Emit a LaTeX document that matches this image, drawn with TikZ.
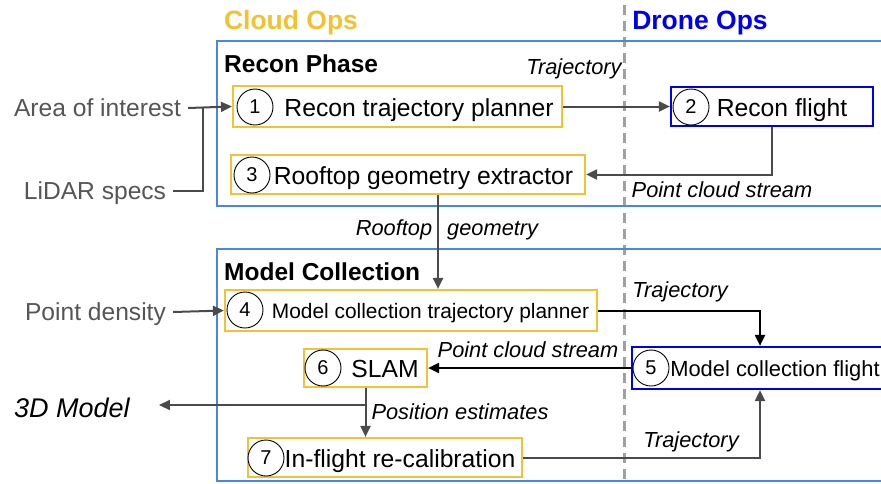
\documentclass[tikz,border=0pt]{standalone}
\usepackage{fontspec}
\setmainfont{Liberation Sans}
\usetikzlibrary{arrows.meta}
\definecolor{cloudyel}{HTML}{F1C232}
\definecolor{phaseblue}{HTML}{4A86E8}
\definecolor{dronblue}{HTML}{0000F0}
\definecolor{linegray}{HTML}{4A4A4A}
\definecolor{txtgray}{HTML}{555555}
\definecolor{dashgray}{HTML}{A0A0A0}
\tikzset{
  phase/.style={draw=phaseblue, line width=2pt},
  cloudbox/.style={draw=cloudyel, line width=2.2pt, fill=white, inner sep=0pt},
  dronebox/.style={draw=dronblue, line width=2.2pt, fill=white, inner sep=0pt},
  numc/.style={circle, draw=black, line width=0.9pt, fill=white, minimum size=36pt, inner sep=0pt, font=\fontsize{20}{22}\selectfont},
  % caps-height boxes so that each label is centred on its capital letters
  capc/.style={text height=#1, text depth=0pt},
  ntext/.style={capc=17.8pt, inner sep=0pt, font=\fontsize{24.7}{27}\selectfont},
  intext/.style={capc=17.8pt, inner xsep=7pt, inner ysep=3pt, text=txtgray, font=\fontsize{24.6}{27}\selectfont},
  elabel/.style={capc=15.6pt, inner sep=0pt, font=\itshape\fontsize{21.8}{23}\selectfont},
  conn/.style={draw=linegray, line width=2pt, -{Triangle[length=11pt,width=10pt]}},
  connk/.style={draw=black, line width=2pt, -{Triangle[length=11pt,width=10pt]}},
  plain/.style={draw=linegray, line width=2pt},
  titlefont/.style={capc=19pt, inner sep=0pt, font=\bfseries\fontsize{26.5}{28}\selectfont},
  phasetitle/.style={capc=17.6pt, inner sep=0pt, anchor=west, font=\bfseries\fontsize{24.5}{26}\selectfont},
}
\begin{document}
\begin{tikzpicture}[x=1pt,y=-1pt]
\useasboundingbox (0,0) rectangle (881,483);
\clip (0,0) rectangle (881,483);

% column headings and the cloud/drone divider
\node[titlefont, text=cloudyel] (cloudops) at (291,20) {Cloud Ops};
\node[titlefont, text=dronblue] (droneops) at (700,20) {Drone Ops};
\draw[dashgray, line width=3pt, dash pattern=on 10pt off 6pt] (624,5) -- (624,480);

% phase frames
\draw[phase] (217,41) rectangle (890,206);
\draw[phase] (217,249) rectangle (890,481);
\node[phasetitle] (recon) at (224,64) {Recon Phase};
\node[phasetitle] (modelcoll) at (224,272) {Model Collection};

% processing steps
\node[cloudbox, minimum width=329pt, minimum height=41pt] (n1) at (397.5,106.5) {};
\node[numc] (c1) at (255,107) {1};
\node[ntext] (t1) at (419,108) {Recon trajectory planner};

\node[dronebox, minimum width=202pt, minimum height=39pt] (n2) at (772,106.5) {};
\node[numc] (c2) at (691,107) {2};
\node[ntext] (t2) at (782,108) {Recon flight};

\node[cloudbox, minimum width=354pt, minimum height=39pt] (n3) at (408,174.5) {};
\node[numc] (c3) at (252,175) {3};
\node[ntext] (t3) at (423.5,176) {Rooftop geometry extractor};

\node[cloudbox, minimum width=372pt, minimum height=41pt] (n4) at (411,310.5) {};
\node[numc] (c4) at (245,310) {4};
\node[ntext, capc=15.1pt, font=\fontsize{20.9}{23}\selectfont] (t4) at (430.5,311) {Model collection trajectory planner};

\node[dronebox, minimum width=258pt, minimum height=42pt] (n5) at (761,368) {};
\node[numc] (c5) at (651,368) {5};
\node[ntext, capc=15.8pt, font=\fontsize{21.9}{24}\selectfont] (t5) at (775,369) {Model collection flight};

\node[cloudbox, minimum width=123pt, minimum height=38pt] (n6) at (365.5,368) {};
\node[numc] (c6) at (323,368) {6};
\node[ntext] (t6) at (385,369) {SLAM};

\node[cloudbox, minimum width=274pt, minimum height=39pt] (n7) at (385,457.5) {};
\node[numc] (c7) at (266,458) {7};
\node[ntext] (t7) at (400,459) {In-flight re-calibration};

% external inputs and output
\node[intext] (aoi) at (97.5,108) {Area of interest};
\node[intext] (lidar) at (95,191) {LiDAR specs};
\node[intext] (pd) at (95.5,312) {Point density};
\node[capc=19.4pt, inner sep=3pt, font=\itshape\fontsize{27}{29}\selectfont] (model) at (72,408) {3D Model};

\coordinate (jin) at (203,107);
\coordinate (rg) at (438,0);
\coordinate (tj) at (760,0);
\coordinate (pe) at (366,405);

% connectors
\draw[conn] (aoi.east) -- (n1.west);
\draw[plain] (lidar.east) -| (jin);
\draw[conn] (pd.east) -- (n4.west);
\draw[conn] (n1.east) -- (n2.west);
\draw[conn] (n2.south) |- (n3.east);
\draw[conn] (n3.south -| rg) -- (n4.north -| rg);
\draw[connk] (n4.east) -| (n5.north -| tj);
\draw[connk] (n5.west) -- (n6.east);
\draw[conn] (n6.south) -- (n6.south |- n7.north);
\draw[conn, shorten >=26pt] (pe) -- (model.east |- pe);
\draw[conn] (n7.east) -| (n5.south -| tj);

% connector labels
\node[elabel] (l1) at (574,67) {Trajectory};
\node[elabel] (l2) at (722,190) {Point cloud stream};
\node[elabel] (l3) at (447,228) {Rooftop\hspace{9pt} geometry};
\node[elabel] (l4) at (680,290) {Trajectory};
\node[elabel] (l5) at (528,350) {Point cloud stream};
\node[elabel] (l6) at (460,412) {Position estimates};
\node[elabel] (l7) at (691,440) {Trajectory};
\end{tikzpicture}
\end{document}
